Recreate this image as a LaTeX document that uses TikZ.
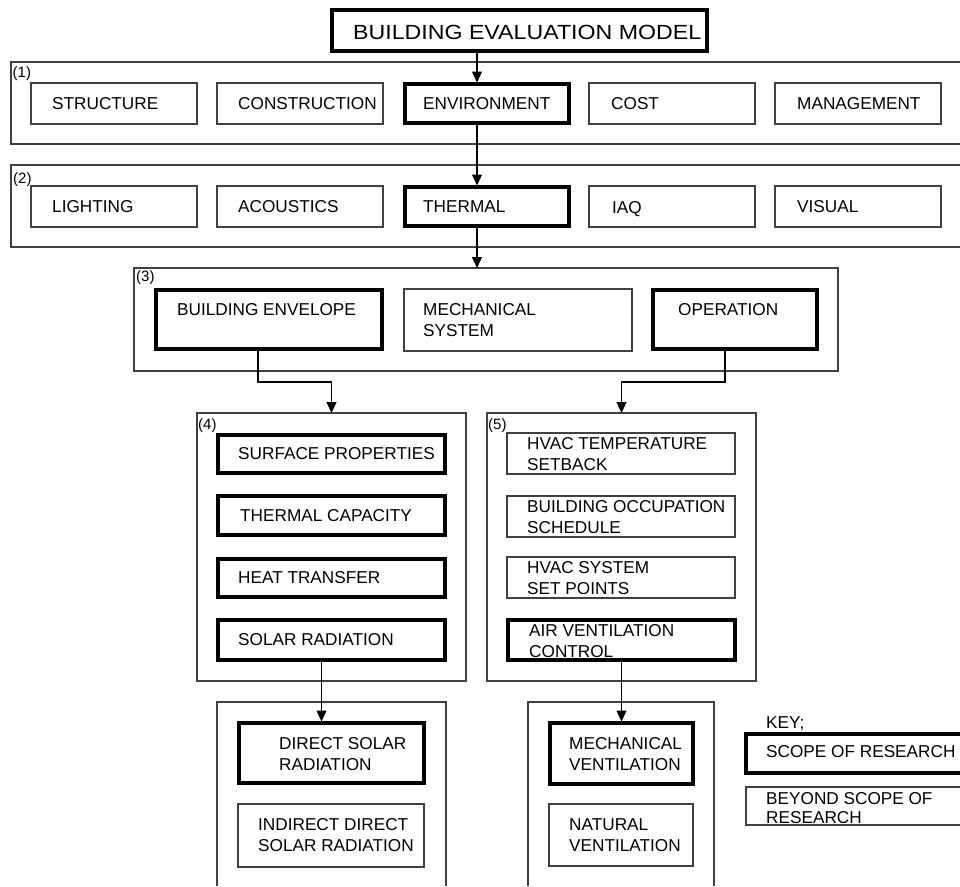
\documentclass[tikz,border=0pt]{standalone}
\usepackage{fontspec}
\setmainfont{Liberation Sans}
\usetikzlibrary{arrows.meta,calc}
\begin{document}
\begin{tikzpicture}[x=1pt,y=-1pt,
  frame/.style={draw=black!75, line width=1.1pt, line join=miter},
  thinbox/.style={draw=black!75, line width=1.1pt, anchor=north west, inner sep=0pt, outer sep=0pt},
  thickbox/.style={draw=black, line width=4pt, anchor=north west, inner sep=0pt, outer sep=0pt},
  txt/.style={font=\fontsize{17.2}{21}\selectfont, inner sep=0pt, align=left, anchor=west},
  tag/.style={font=\fontsize{15}{18}\selectfont, inner sep=0pt, anchor=north west},
  link/.style={draw=black, line width=1.2pt},
  arrow/.style={link, -{Triangle[length=11pt,width=10pt]}},
]
\useasboundingbox (0,0) rectangle (960,886);

% ---- title ----
\node[thickbox, minimum width=375, minimum height=41] (title) at (332,10) {};
\node[txt, font=\fontsize{20.5}{24}\selectfont, yshift=-1.5pt] (title-t) at ($(title.west)+(21,0)$)
  {\scalebox{1.13}[1]{BUILDING EVALUATION MODEL}};

% ---- level (1) ----
\draw[frame] (960,62) -- (11,62) -- (11,144) -- (960,144);
\node[tag] (tag1) at (12.5,66.5) {(1)};
\node[thinbox, minimum width=166, minimum height=41] (struct) at (31,83) {};
\node[thinbox, minimum width=166, minimum height=41] (constr) at (217,83) {};
\node[thickbox, minimum width=164, minimum height=39] (env) at (405,84) {};
\node[thinbox, minimum width=166, minimum height=41] (cost) at (589,83) {};
\node[thinbox, minimum width=166, minimum height=41] (mgmt) at (775,83) {};
\node[txt] (struct-t) at ($(struct.west)+(21,0)$) {STRUCTURE};
\node[txt] (constr-t) at ($(constr.west)+(21,0)$) {CONSTRUCTION};
\node[txt] (env-t) at ($(env.west)+(18,0)$) {ENVIRONMENT};
\node[txt] (cost-t) at ($(cost.west)+(22,0)$) {COST};
\node[txt] (mgmt-t) at ($(mgmt.west)+(22,0)$) {MANAGEMENT};

% ---- level (2) ----
\draw[frame] (960,165) -- (11,165) -- (11,247) -- (960,247);
\node[tag] (tag2) at (13,172) {(2)};
\node[thinbox, minimum width=166, minimum height=41] (light) at (31,186) {};
\node[thinbox, minimum width=166, minimum height=41] (acou) at (217,186) {};
\node[thickbox, minimum width=164, minimum height=39] (therm) at (405,187) {};
\node[thinbox, minimum width=166, minimum height=41] (iaq) at (589,186) {};
\node[thinbox, minimum width=166, minimum height=41] (visual) at (775,186) {};
\node[txt] (light-t) at ($(light.west)+(21,0)$) {LIGHTING};
\node[txt] (acou-t) at ($(acou.west)+(21,0)$) {ACOUSTICS};
\node[txt] (therm-t) at ($(therm.west)+(18,0)$) {THERMAL};
\node[txt, text depth=0pt] (iaq-t) at ($(iaq.west)+(23,1)$) {IAQ};
\node[txt] (visual-t) at ($(visual.west)+(22,0)$) {VISUAL};

% ---- level (3) ----
\node[thinbox, minimum width=704, minimum height=103] (g3) at (134,268) {};
\node[tag] (tag3) at (136,270) {(3)};
\node[thickbox, minimum width=226, minimum height=59] (envl) at (156,290) {};
\node[thinbox, minimum width=228, minimum height=62] (mechs) at (404,289) {};
\node[thickbox, minimum width=164, minimum height=59] (op) at (653,290) {};
\node[txt, anchor=north west] (envl-t) at ($(envl.north west)+(21,13)$) {BUILDING ENVELOPE};
\node[txt, anchor=north west] (mechs-t) at ($(mechs.north west)+(19,14)$) {MECHANICAL\\SYSTEM};
\node[txt, anchor=north west] (op-t) at ($(op.north west)+(25,13)$) {OPERATION};

% ---- level (4) ----
\node[thinbox, minimum width=269, minimum height=268] (g4) at (197,413) {};
\node[tag] (tag4) at (198,418) {(4)};
\node[thickbox, minimum width=227, minimum height=38] (surf) at (218,435) {};
\node[thickbox, minimum width=227, minimum height=39] (tcap) at (218,496) {};
\node[thickbox, minimum width=227, minimum height=38] (heat) at (218,559) {};
\node[thickbox, minimum width=227, minimum height=40] (solar) at (218,620) {};
\node[txt] (surf-t) at ($(surf.west)+(20,0)$) {SURFACE PROPERTIES};
\node[txt] (tcap-t) at ($(tcap.west)+(22,0)$) {THERMAL CAPACITY};
\node[txt] (heat-t) at ($(heat.west)+(20,0)$) {HEAT TRANSFER};
\node[txt] (solar-t) at ($(solar.west)+(20,0)$) {SOLAR RADIATION};

% ---- level (5) ----
\node[thinbox, minimum width=269, minimum height=268] (g5) at (487,413) {};
\node[tag] (tag5) at (488,418) {(5)};
\node[thinbox, minimum width=228, minimum height=41] (setb) at (507,433) {};
\node[thinbox, minimum width=228, minimum height=41] (occ) at (507,496) {};
\node[thinbox, minimum width=228, minimum height=41] (setp) at (507,557) {};
\node[thickbox, minimum width=227, minimum height=40] (air) at (508,620) {};
\node[txt] (setb-t) at ($(setb.west)+(20,0.5)$) {HVAC TEMPERATURE\\SETBACK};
\node[txt] (occ-t) at ($(occ.west)+(20,0.5)$) {BUILDING OCCUPATION\\SCHEDULE};
\node[txt] (setp-t) at ($(setp.west)+(20,0.5)$) {HVAC SYSTEM\\SET POINTS};
\node[txt] (air-t) at ($(air.west)+(21,1)$) {AIR VENTILATION\\CONTROL};

% ---- solar radiation detail ----
\draw[frame] (217,886) -- (217,702) -- (446,702) -- (446,886);
\node[thickbox, minimum width=185, minimum height=60] (direct) at (239,723) {};
\node[thinbox, minimum width=186, minimum height=63] (indirect) at (238,804) {};
\node[txt] (direct-t) at ($(direct.west)+(40,1)$) {DIRECT SOLAR\\RADIATION};
\node[txt] (indirect-t) at ($(indirect.west)+(20,0)$) {INDIRECT DIRECT\\SOLAR RADIATION};

% ---- ventilation detail ----
\draw[frame] (528,886) -- (528,702) -- (714,702) -- (714,886);
\node[thickbox, minimum width=143, minimum height=61] (mechv) at (550,723) {};
\node[thinbox, minimum width=144, minimum height=62] (natv) at (549,804) {};
\node[txt] (mechv-t) at ($(mechv.west)+(19,1)$) {MECHANICAL\\VENTILATION};
\node[txt] (natv-t) at ($(natv.west)+(20,0)$) {NATURAL\\VENTILATION};

% ---- key ----
\node[txt, anchor=north west] (key-t) at (766,716) {KEY;};
\draw[draw=black, line width=4pt, line join=miter] (960,734) -- (746,734) -- (746,773) -- (960,773);
\draw[frame] (960,787) -- (746,787) -- (746,825) -- (960,825);
\node[txt] (scope-t) at (766,751.5) {SCOPE OF RESEARCH};
\node[txt, anchor=north west] (beyond-t) at (766,792) {BEYOND SCOPE OF\\[-2pt]RESEARCH};

% ---- connectors ----
\coordinate (spine) at (477,0);
\draw[arrow, shorten >=1.5pt] (title.south -| spine) -- (spine |- env.north);
\draw[arrow, shorten >=1.5pt] (env.south -| spine) -- (spine |- therm.north);
\draw[arrow] (therm.south -| spine) -- (spine |- g3.north);
\draw[arrow] ($(envl.south)+(-11,0)$) -- ++(0,33) -| (g4.north);
\draw[arrow] ($(op.south)+(-10,0)$) -- ++(0,33) -| (g5.north);
\draw[arrow, shorten >=1.5pt] ($(solar.south)+(-10,0)$) -- ($(direct.north)+(-10,0)$);
\draw[arrow, shorten >=1.5pt] (air.south) -- (mechv.north);
\end{tikzpicture}
\end{document}
